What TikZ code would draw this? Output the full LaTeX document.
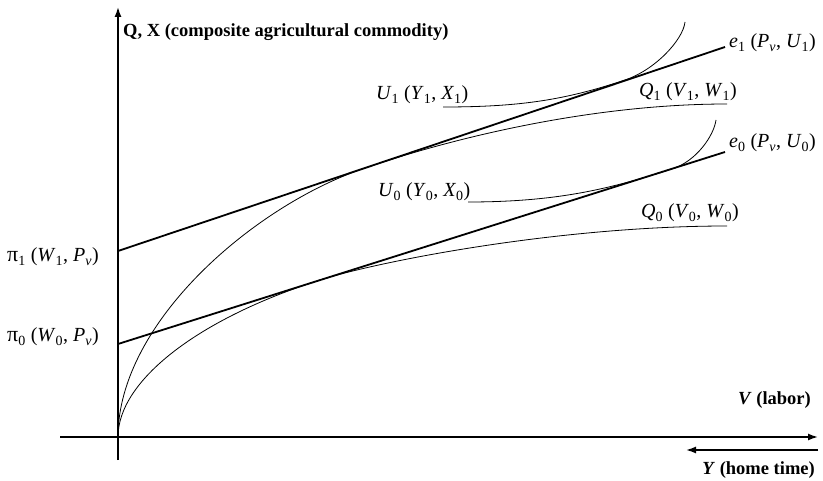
\documentclass[tikz,border=0pt]{standalone}
\usepackage{fontspec}
\setmainfont{Liberation Serif}
\usetikzlibrary{arrows.meta}
\newcommand{\vs}[2]{\textit{#1}\textsubscript{#2}}

\begin{document}
\begin{tikzpicture}[x=1pt,y=-1pt,
    axis/.style={line width=1.5pt,-{Latex[length=10pt,width=7pt]}},
    budget/.style={line width=1.8pt},
    curve/.style={line width=0.8pt},
    lab/.style={inner sep=0pt,font=\fontsize{20}{24}\selectfont}]
  \useasboundingbox (0,0) rectangle (823,481);

  %Axes
  \coordinate (O) at (118,437);
  \coordinate (ybot) at (118,460);
  \coordinate (ytop) at (118,7);
  \coordinate (xleft) at (60,437);
  \coordinate (xright) at (818,437);
  \coordinate (hright) at (818,450);
  \coordinate (hleft) at (686,450);
  \draw[axis] (ybot) -- (ytop);
  \draw[axis] (xleft) -- (xright);
  \draw[axis] (hright) -- (hleft);

  %Price lines
  \coordinate (pi1) at (118,251);
  \coordinate (pi0) at (118,344);
  \coordinate (e1) at (725,47);
  \coordinate (e0) at (725,152);
  \draw[budget] (pi1) -- (e1);
  \draw[budget] (pi0) -- (e0);

  %Production functions
  \draw[curve] (O) .. controls (118,322) and (255,205) .. (365,168)
    .. controls (465,134) and (600,104) .. (727,104);
  \draw[curve] (O) .. controls (118,380) and (200,318) .. (320,280)
    .. controls (380,261) and (560,226) .. (727,226);

  %Indifference curves
  \draw[curve] (443,107) .. controls (520,107) and (565,100) .. (625,80)
    .. controls (655,70) and (683,40) .. (685,22);
  \draw[curve] (468,202) .. controls (560,202) and (612,188) .. (672,169)
    .. controls (697,161) and (714,135) .. (716,120);

  %Labels
  \node[lab,anchor=base west,font=\fontsize{18.5}{22}\selectfont\bfseries] (title) at (123,37)
    {Q, X (composite agricultural commodity)};
  \node[lab,anchor=base west] (labe1) at (729,48) {\vs{e}{1} (\vs{P}{\textit{v}}, \vs{U}{1})};
  \node[lab,anchor=base west] (labq1) at (639,97) {\vs{Q}{1} (\vs{V}{1}, \vs{W}{1})};
  \node[lab,anchor=base west] (labu1) at (376,100) {\vs{U}{1} (\vs{Y}{1}, \vs{X}{1})};
  \node[lab,anchor=base west] (labe0) at (729,148) {\vs{e}{0} (\vs{P}{\textit{v}}, \vs{U}{0})};
  \node[lab,anchor=base west] (labu0) at (378,197) {\vs{U}{0} (\vs{Y}{0}, \vs{X}{0})};
  \node[lab,anchor=base west] (labq0) at (641,218) {\vs{Q}{0} (\vs{V}{0}, \vs{W}{0})};
  \node[lab,anchor=base west] (labpi1) at (7,262) {{\fontsize{22}{24}\selectfont π}\textsubscript{1} (\vs{W}{1}, \vs{P}{\textit{v}})};
  \node[lab,anchor=base west] (labpi0) at (7,342) {{\fontsize{22}{24}\selectfont π}\textsubscript{0} (\vs{W}{0}, \vs{P}{\textit{v}})};
  \node[lab,anchor=base east,font=\fontsize{18.5}{22}\selectfont\bfseries] (labv) at (811,405)
    {\textit{V} (labor)};
  \node[lab,anchor=base east,font=\fontsize{18.5}{22}\selectfont\bfseries] (laby) at (815,475)
    {\textit{Y} (home time)};

\end{tikzpicture}
\end{document}
